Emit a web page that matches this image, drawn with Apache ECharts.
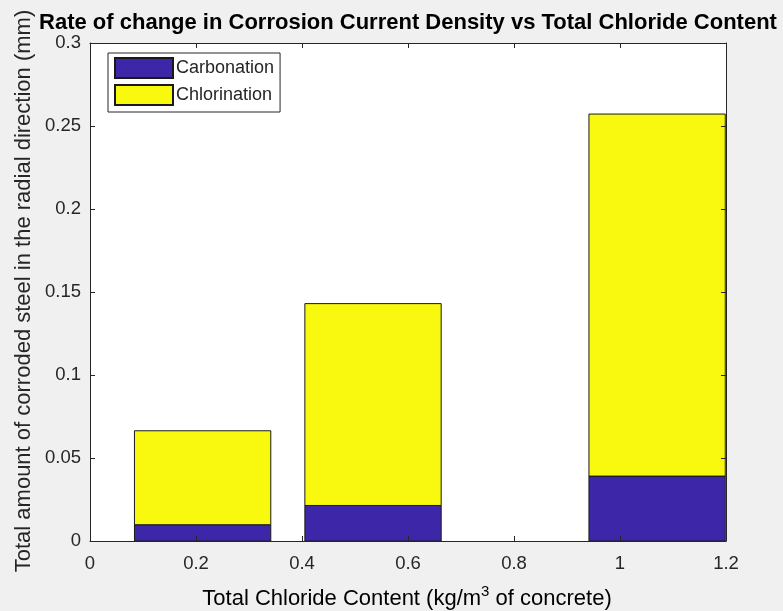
<!DOCTYPE html>
<html>
<head>
<meta charset="utf-8">
<script src="https://cdn.jsdelivr.net/npm/echarts@6/dist/echarts.min.js"></script>
<style>
  html, body { margin: 0; padding: 0; background: #f0f0f0; }
  #chart { width: 783px; height: 611px; }
</style>
</head>
<body>
<div id="chart"></div>
<script>
// Total chloride content (kg/m^3 of concrete) at each bar position
const chlorideContent = [0.2125, 0.534, 1.07];
// Corroded steel depth in the radial direction (mm), one stacked segment per cause
const carbonation = [0.0098, 0.0214, 0.0391];
const chlorination = [0.0566, 0.1216, 0.2181];
const seriesNames = ['Carbonation', 'Chlorination'];
const seriesColors = ['#3d27a8', '#f8f90f'];

const xTicks = { min: 0, max: 1.2, interval: 0.2 };
const yTicks = { min: 0, max: 0.3, interval: 0.05 };

const axisColor = '#262626';
const fontFamily = '"Liberation Sans", Arial, Helvetica, sans-serif';

// Bars take 80% of the smallest spacing between neighbouring positions
const gaps = chlorideContent.slice(1).map((v, i) => v - chlorideContent[i]);
const barWidthData = 0.8 * Math.min.apply(null, gaps);

// Stack the segments: each item is [x, bottom, top]
const carbonationItems = chlorideContent.map((x, i) => [x, 0, carbonation[i]]);
const chlorinationItems = chlorideContent.map((x, i) => [x, carbonation[i], carbonation[i] + chlorination[i]]);

function renderStackedBar(params, api) {
  const x = api.value(0);
  const bottom = api.coord([x, api.value(1)]);
  const top = api.coord([x, api.value(2)]);
  const w = api.size([barWidthData, 0])[0];
  return {
    type: 'rect',
    shape: { x: bottom[0] - w / 2, y: top[1], width: w, height: bottom[1] - top[1] },
    style: api.style()
  };
}

const chart = echarts.init(document.getElementById('chart'), null, { renderer: 'canvas' });

const baseAxis = {
  type: 'value',
  z: 10,
  axisLine: { show: true, onZero: false, lineStyle: { color: axisColor, width: 1 } },
  axisTick: { show: true, inside: true, length: 5, lineStyle: { color: axisColor } },
  splitLine: { show: false },
  axisLabel: { color: axisColor, fontSize: 18.5, fontFamily: fontFamily }
};

chart.setOption({
  backgroundColor: '#f0f0f0',
  animation: false,
  grid: {
    left: 90, right: 57, top: 43, bottom: 70,
    show: true, backgroundColor: '#ffffff', borderWidth: 0
  },
  legend: {
    orient: 'vertical',
    left: 108, top: 53,
    data: seriesNames,
    icon: 'rect',
    itemWidth: 58, itemHeight: 20, itemGap: 5,
    padding: [4, 6, 6, 6],
    backgroundColor: '#ffffff',
    borderColor: axisColor, borderWidth: 1,
    textStyle: { color: axisColor, fontSize: 18, fontFamily: fontFamily, padding: [0, 0, 0, -2] }
  },
  xAxis: [
    Object.assign({}, baseAxis, xTicks, {
      position: 'bottom',
      axisLabel: Object.assign({}, baseAxis.axisLabel, { margin: 13 })
    }),
    Object.assign({}, baseAxis, xTicks, { position: 'top', axisLabel: { show: false } })
  ],
  yAxis: [
    Object.assign({}, baseAxis, yTicks, {
      position: 'left',
      axisLabel: Object.assign({}, baseAxis.axisLabel, { margin: 9 })
    }),
    Object.assign({}, baseAxis, yTicks, { position: 'right', axisLabel: { show: false } })
  ],
  series: [
    {
      name: seriesNames[0], type: 'custom',
      xAxisIndex: 0, yAxisIndex: 0,
      renderItem: renderStackedBar,
      encode: { x: 0, y: [1, 2] },
      data: carbonationItems,
      itemStyle: { color: seriesColors[0], borderColor: '#1a1a1a', borderWidth: 1 }
    },
    {
      name: seriesNames[1], type: 'custom',
      xAxisIndex: 0, yAxisIndex: 0,
      renderItem: renderStackedBar,
      encode: { x: 0, y: [1, 2] },
      data: chlorinationItems,
      itemStyle: { color: seriesColors[1], borderColor: '#1a1a1a', borderWidth: 1 }
    }
  ],
  graphic: [
    {
      type: 'text', x: 408, y: 23,
      style: {
        text: 'Rate of change in Corrosion Current Density vs Total Chloride Content',
        font: 'bold 22px ' + fontFamily, fill: '#000000',
        align: 'center', verticalAlign: 'middle'
      }
    },
    {
      type: 'text', x: 24, y: 291, rotation: Math.PI / 2,
      style: {
        text: 'Total amount of corroded steel in the radial direction (mm)',
        font: '22px ' + fontFamily, fill: axisColor,
        align: 'center', verticalAlign: 'middle'
      }
    },
    {
      type: 'text', x: 407, y: 599,
      style: {
        text: '{a|Total Chloride Content (kg/m}{s|3}{a| of concrete)}',
        align: 'center', verticalAlign: 'middle',
        rich: {
          a: { fontSize: 22, fontFamily: fontFamily, color: axisColor },
          s: { fontSize: 15, fontFamily: fontFamily, color: axisColor, padding: [0, 0, 14, 0] }
        }
      }
    }
  ]
});
</script>
</body>
</html>
